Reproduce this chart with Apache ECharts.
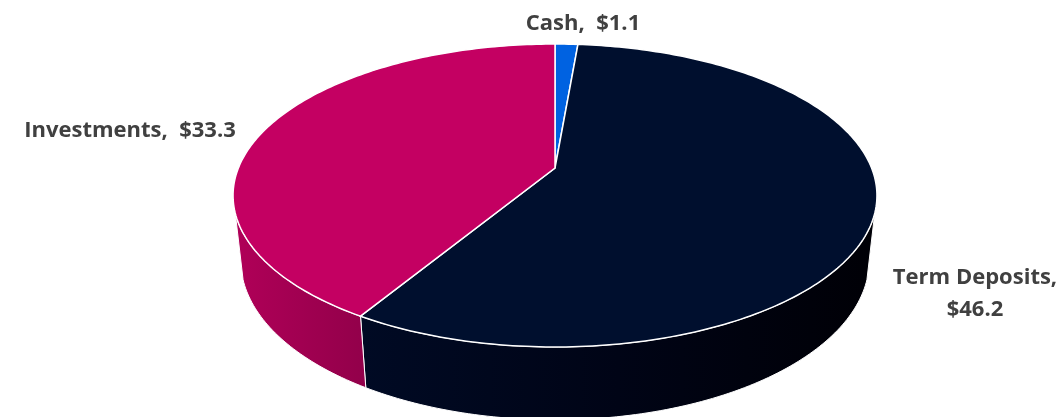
<!DOCTYPE html>
<html>
<head>
<meta charset="utf-8">
<style>
  html, body { margin: 0; padding: 0; background: #fff; }
  #chart { width: 1061px; height: 417px; }
</style>
</head>
<body>
<div id="chart"></div>
<script src="https://cdn.jsdelivr.net/npm/echarts@6/dist/echarts.min.js"></script>
<script>
const categories = ["Cash", "Term Deposits", "Investments"];
const amounts = [1.1, 46.2, 33.3];
const amountLabels = ["$1.1", "$46.2", "$33.3"];

const topColors = ["#0062e1", "#000f2e", "#c40062"];
const wallColors = [
  ["#0050b8", "#003f92"],
  ["#000a24", "#000416", "#000006"],
  ["#b00058", "#92004a"]
];

// camera: circle -> perspective ellipse, then homology down to the bottom rim
const cam = { x: 555, y: 168, a: 316.6, b: 146.5, k: 0.1815 };
const horizonY = -639;
const vanishY = 2940;
const depth = 1.105;
const frontFrom = 107;
const frontTo = 253;

const labelStyle = {
  fontFamily: "Open Sans",
  fontWeight: "bold",
  fontSize: 22,
  lineHeight: 32,
  fill: "#404040"
};
const labelSpots = [
  { x: 583, y: 24, text: (i) => categories[i] + ",  " + amountLabels[i] },
  { x: 975, y: 294, text: (i) => categories[i] + ",\n" + amountLabels[i] },
  { x: 130, y: 131, text: (i) => categories[i] + ",  " + amountLabels[i] }
];

const total = amounts.reduce((s, v) => s + v, 0);

function sliceRange(index) {
  const before = amounts.slice(0, index).reduce((s, v) => s + v, 0);
  return [(before / total) * 360, ((before + amounts[index]) / total) * 360];
}

function rimPoint(deg) {
  const t = (deg * Math.PI) / 180;
  const u = Math.sin(t);
  const v = -Math.cos(t);
  const w = 1 - cam.k * v;
  return [cam.x + (cam.a * u) / w, cam.y + (cam.b * v) / w];
}

function dropPoint(p) {
  const r = (depth * (p[1] - horizonY)) / (vanishY - p[1]);
  const y = (r * vanishY + horizonY) / (1 + r);
  const x = cam.x + ((p[0] - cam.x) * (vanishY - y)) / (vanishY - p[1]);
  return [x, y];
}

function rimArc(from, to) {
  const pts = [];
  const steps = Math.max(2, Math.ceil(to - from));
  for (let i = 0; i <= steps; i++) {
    pts.push(rimPoint(from + ((to - from) * i) / steps));
  }
  return pts;
}

function renderWall(params) {
  const range = sliceRange(params.dataIndex);
  const from = Math.max(range[0], frontFrom);
  const to = Math.min(range[1], frontTo);
  if (from >= to) {
    return { type: "group", children: [] };
  }
  const top = rimArc(from, to);
  const bottom = top.map(dropPoint).reverse();
  const colors = wallColors[params.dataIndex];
  return {
    type: "polygon",
    shape: { points: top.concat(bottom) },
    style: {
      fill: {
        type: "linear", x: 0, y: 0, x2: 1, y2: 0,
        colorStops: colors.map((c, n) => ({ offset: n / (colors.length - 1), color: c }))
      },
      stroke: "#ffffff",
      lineWidth: 1
    }
  };
}

function renderTop(params) {
  const i = params.dataIndex;
  const range = sliceRange(i);
  const spot = labelSpots[i];
  return {
    type: "group",
    children: [
      {
        type: "polygon",
        shape: { points: [[cam.x, cam.y]].concat(rimArc(range[0], range[1])) },
        style: { fill: topColors[i], stroke: "#ffffff", lineWidth: 1.5 }
      },
      {
        type: "text",
        x: spot.x,
        y: spot.y,
        style: Object.assign({}, labelStyle, {
          text: spot.text(i),
          textAlign: "center",
          textVerticalAlign: "middle"
        })
      }
    ]
  };
}

const chart = echarts.init(document.getElementById("chart"));
chart.setOption({
  animation: false,
  backgroundColor: "#ffffff",
  series: [
    { type: "custom", coordinateSystem: "none", silent: true, z: 1, data: amounts, renderItem: renderWall },
    { type: "custom", coordinateSystem: "none", silent: true, z: 2, data: amounts, renderItem: renderTop }
  ]
});
</script>
</body>
</html>
